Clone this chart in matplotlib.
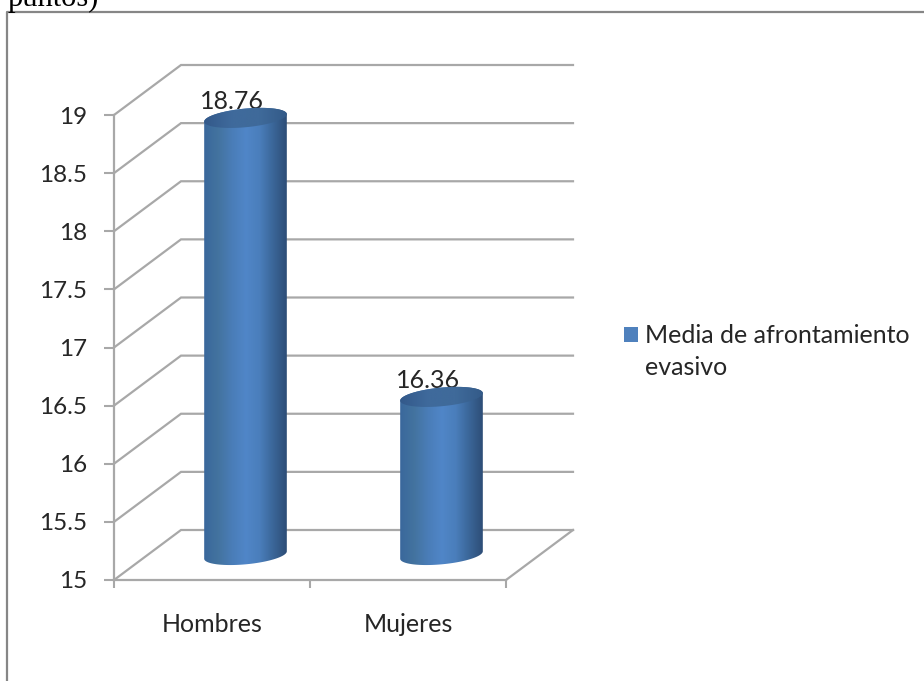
import numpy as np
import matplotlib
matplotlib.use('Agg')
import matplotlib.pyplot as plt
from matplotlib.colors import LinearSegmentedColormap
from matplotlib.patches import Patch, Polygon

plt.rcParams['font.family'] = ['Lato', 'DejaVu Sans']

categories = ['Hombres', 'Mujeres']
values = [18.76, 16.36]
value_labels = ['18.76', '16.36']
y_ticks = [15, 15.5, 16, 16.5, 17, 17.5, 18, 18.5, 19]
y_tick_labels = ['15', '15.5', '16', '16.5', '17', '17.5', '18', '18.5', '19']
legend_lines = ['Media de afrontamiento', 'evasivo']

W, H = 924, 681
GRID = '#a8a8a8'
TEXT = '#262626'

fig = plt.figure(figsize=(W / 100, H / 100), dpi=100)

# cut-off caption and the frame around the chart
fig.text(8 / W, 1 - 6 / H, 'puntos)', family='Liberation Serif', fontsize=22,
         color='black', ha='left', va='baseline')
fig.add_artist(plt.Line2D([7 / W, 7 / W, 1], [0, 1 - 12 / H, 1 - 12 / H],
                          color='#868686', lw=1.6))

# axes sit on the front plane of the 3d box
ax = fig.add_axes([114 / W, 1 - 580 / H, 392 / W, 465 / H])
ax.set_xlim(0, 2)
ax.set_ylim(15, 19)
sx, sy = 392 / 2, 465 / 4  # pixels per data unit
dx, dy = 67 / sx, 50 / sy  # depth of the box

for s in ['top', 'right']:
    ax.spines[s].set_visible(False)
for s in ['left', 'bottom']:
    ax.spines[s].set_color(GRID)
    ax.spines[s].set_linewidth(1.6)

ax.set_yticks(y_ticks)
ax.set_yticklabels(y_tick_labels, fontsize=17.5, color=TEXT)
ax.tick_params(axis='y', length=7, width=1.5, color=GRID, pad=12.5)
ax.set_xticks([0, 1, 2], minor=True)
ax.tick_params(axis='x', which='minor', length=6, width=1.5, color=GRID)
ax.set_xticks([0.5, 1.5])
ax.set_xticklabels(categories, fontsize=18, color=TEXT)
ax.tick_params(axis='x', which='major', length=0, pad=24)

# back wall and side of the box
for t in y_ticks:
    ax.plot([0, dx, 2 + dx], [t, t + dy, t + dy], color=GRID, lw=1.6,
            clip_on=False, zorder=1, solid_joinstyle='miter')
ax.plot([2, 2 + dx], [15, 15 + dy], color=GRID, lw=1.6, clip_on=False, zorder=1)

side = LinearSegmentedColormap.from_list(
    'side', ['#3a689c', '#43739f', '#4a7db8', '#5086c8', '#4a7ebb', '#3a6597', '#2c4c75'])
cap = LinearSegmentedColormap.from_list(
    'cap', ['#33598a', '#3f6a9c', '#3f6a9a', '#335a88'])


def ellipse(cx, cy, t):
    a, b, tilt = 41.5, 9.3, np.radians(5.4)
    px = a * np.cos(t) * np.cos(tilt) - b * np.sin(t) * np.sin(tilt)
    py = a * np.cos(t) * np.sin(tilt) + b * np.sin(t) * np.cos(tilt)
    return np.column_stack([cx + px / sx, cy + py / sy])


def shaded(poly, cmap, x0, x1, y0, y1, z):
    img = ax.imshow(np.linspace(0, 1, 128)[None, :], cmap=cmap, aspect='auto',
                    extent=[x0, x1, y0, y1], zorder=z, interpolation='bilinear')
    patch = Polygon(poly, closed=True, transform=ax.transData, fc='none', ec='none')
    ax.add_patch(patch)
    patch.set_clip_on(False)
    img.set_clip_path(patch)
    # the cylinders stand out above the front plane, so clip to the figure
    img.set_clip_box(fig.bbox)


half = 42 / sx
for i, v in enumerate(values):
    cx = i + 0.5 + dx / 2
    y0 = 15 + dy / 2
    y1 = v + dy / 2
    body = np.vstack([ellipse(cx, y0, np.linspace(np.pi, 2 * np.pi, 60)),
                      ellipse(cx, y1, np.linspace(0, np.pi, 60))])
    top = ellipse(cx, y1, np.linspace(0, 2 * np.pi, 120))
    shaded(body, side, cx - half, cx + half, y0 - 14 / sy, y1 + 14 / sy, 3)
    shaded(top, cap, cx - half, cx + half, y1 - 14 / sy, y1 + 14 / sy, 4)
    ax.annotate(value_labels[i], (i + 0.5, v), xytext=(14.5, 30),
                textcoords='offset points', ha='center', va='center',
                fontsize=18, color=TEXT, zorder=2, annotation_clip=False)

ax.set_xlim(0, 2)
ax.set_ylim(15, 19)

fig.legend(handles=[Patch(fc='#4f81bd', ec='none'), Patch(fc='none', ec='none')],
           labels=legend_lines, loc='upper left',
           bbox_to_anchor=(619 / W, 1 - 319 / H), frameon=False, fontsize=18,
           labelcolor=TEXT, handlelength=0.55, handleheight=0.55,
           handletextpad=0.3, borderpad=0.2, borderaxespad=0, labelspacing=0.36)

fig.savefig('out.png', dpi=100)
